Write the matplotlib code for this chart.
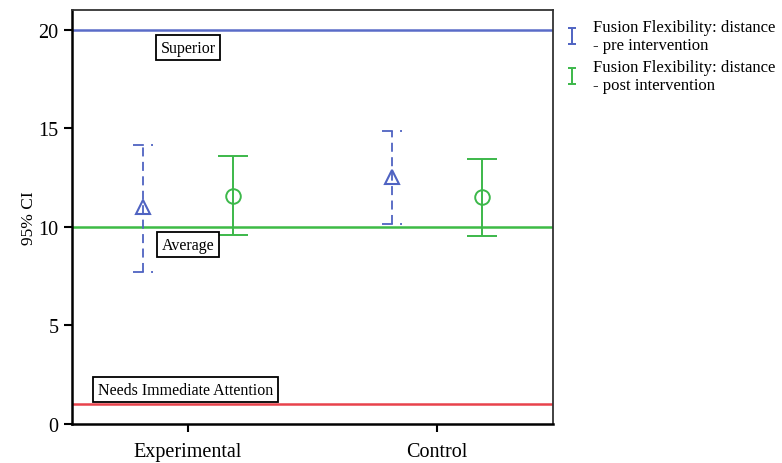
import matplotlib.pyplot as plt
from matplotlib.path import Path
from matplotlib.lines import Line2D

# data
groups = ["Experimental", "Control"]
pre_mean = [11.0, 12.55]
pre_low = [7.7, 10.15]
pre_high = [14.15, 14.85]
post_mean = [11.55, 11.5]
post_low = [9.6, 9.55]
post_high = [13.6, 13.45]

ref_levels = [20, 10, 1]
ref_names = ["Superior", "Average", "Needs Immediate Attention"]
ref_colors = ["#5a6cc8", "#3dbb45", "#e8434c"]

blue = "#4f63c2"
green = "#3cb84a"

plt.rcParams['font.family'] = ['Liberation Serif', 'DejaVu Serif']

fig = plt.figure(figsize=(7.82, 4.64), dpi=100)
ax = fig.add_axes([0.092, 0.084, 0.615, 0.892])

x = [1, 2]
off = 0.18
cap = 0.04

# reference lines
for lev, col in zip(ref_levels, ref_colors):
    ax.axhline(lev, color=col, lw=1.8, zorder=1)

# pre intervention, dashed bars
for xi, m, lo, hi in zip(x, pre_mean, pre_low, pre_high):
    xp = xi - off
    ax.vlines(xp, lo, hi, color=blue, lw=1.3, linestyles=(0, (5, 3)), zorder=3)
    ax.hlines([lo, hi], xp - cap, xp + cap, color=blue, lw=1.3,
              linestyles=(0, (6, 4)), zorder=3)
    ax.plot(xp, m, marker='^', ms=10, mfc='none', mec=blue, mew=1.5, zorder=4)

# post intervention, solid bars
for xi, m, lo, hi in zip(x, post_mean, post_low, post_high):
    xp = xi + off
    ax.vlines(xp, lo, hi, color=green, lw=1.4, zorder=3)
    ax.hlines([lo, hi], xp - cap - 0.02, xp + cap + 0.02, color=green, lw=1.4, zorder=3)
    ax.plot(xp, m, marker='o', ms=10.5, mfc='none', mec=green, mew=1.4, zorder=4)

# boxed labels
box = dict(boxstyle='square,pad=0.3', fc='white', ec='black', lw=1.3)
ax.text(1.0, 19.1, ref_names[0], ha='center', va='center', fontsize=11.5, bbox=box, zorder=5)
ax.text(1.0, 9.1, ref_names[1], ha='center', va='center', fontsize=11.5, bbox=box, zorder=5)
ax.text(0.99, 1.75, ref_names[2], ha='center', va='center', fontsize=11.5, bbox=box, zorder=5)

ax.set_xlim(0.534, 2.466)
ax.set_ylim(0, 21)
ax.set_xticks(x)
ax.set_xticklabels(groups, fontsize=14.5)
ax.set_yticks([0, 5, 10, 15, 20])
ax.tick_params(axis='y', labelsize=14.5, length=6, width=1.5)
ax.tick_params(axis='x', length=6, width=1.5, pad=7)
ax.set_ylabel("95% CI", fontsize=12.5, labelpad=1)

for s in ['left', 'bottom']:
    ax.spines[s].set_linewidth(1.8)
for s in ['top', 'right']:
    ax.spines[s].set_linewidth(1.3)
    ax.spines[s].set_color('#333333')

# legend with I-shaped handles
ibar = Path([(-0.5, 1), (0.5, 1), (0, 1), (0, -1), (-0.5, -1), (0.5, -1)],
            [Path.MOVETO, Path.LINETO, Path.MOVETO, Path.LINETO, Path.MOVETO, Path.LINETO])
handles = [
    Line2D([], [], ls='none', marker=ibar, ms=11, mfc='none', mec=blue, mew=1.4),
    Line2D([], [], ls='none', marker=ibar, ms=11, mfc='none', mec=green, mew=1.4),
]
labels = ["Fusion Flexibility: distance\n- pre intervention",
          "Fusion Flexibility: distance\n- post intervention"]
fig.legend(handles, labels, loc='upper left', bbox_to_anchor=(0.712, 0.972),
           frameon=False, fontsize=12, handlelength=1.0, handletextpad=0.8,
           labelspacing=0.35, borderaxespad=0)

fig.savefig("out.png", dpi=100)
